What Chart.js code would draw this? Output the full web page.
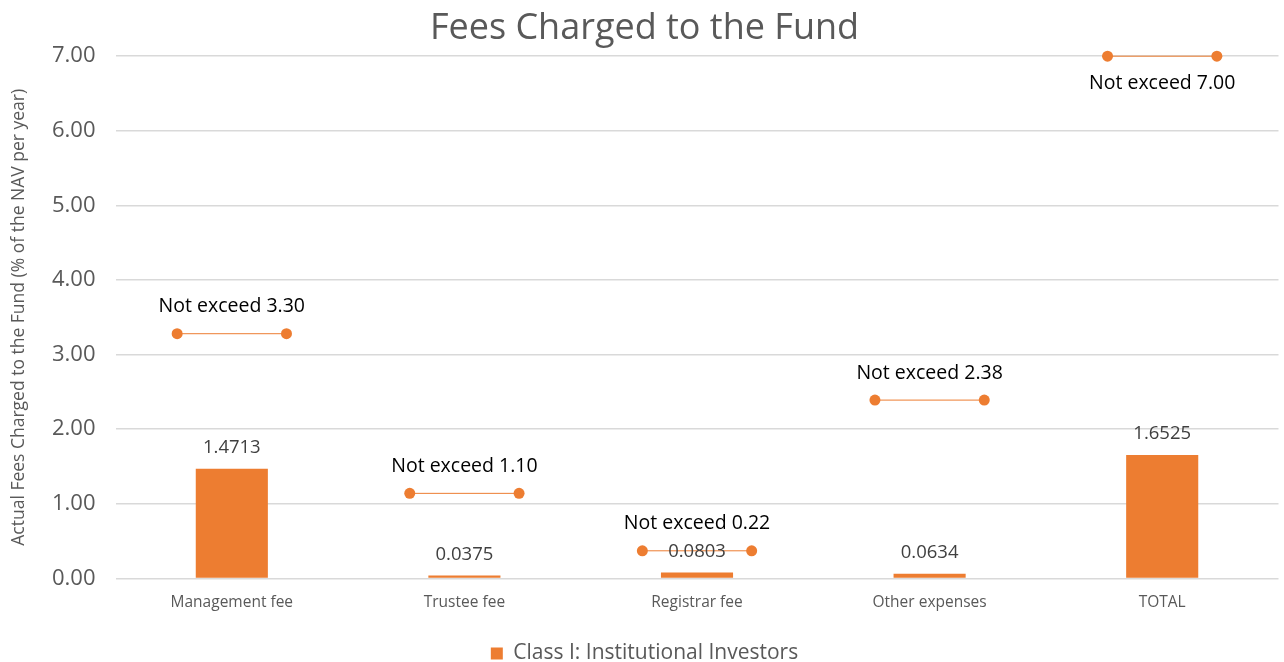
<!DOCTYPE html>
<html><head><meta charset="utf-8">
<script src="https://cdn.jsdelivr.net/npm/chart.js@4/dist/chart.umd.min.js"></script>
<style>html,body{margin:0;padding:0;background:#fff}#wrap{width:1284px;height:662px}</style>
</head><body><div id="wrap"><canvas id="c" width="1284" height="662"></canvas></div>
<script>
const categories = ["Management fee","Trustee fee","Registrar fee","Other expenses","TOTAL"];
const actualFees = [1.4713, 0.0375, 0.0803, 0.0634, 1.6525];
const actualLabels = ["1.4713","0.0375","0.0803","0.0634","1.6525"];
const capLevels = [3.28, 1.14, 0.37, 2.39, 7.00];
const capLabels = ["Not exceed 3.30","Not exceed 1.10","Not exceed 0.22","Not exceed 2.38","Not exceed 7.00"];
const yTicks = [0,1,2,3,4,5,6,7];

const ORANGE = '#ED7D31';
const capHalf = 0.235;
const capData = [];
capLevels.forEach((v,i)=>{
  capData.push({x:i-capHalf,y:v},{x:i+capHalf,y:v},{x:i+0.5,y:null});
});

const labelPlugin = {
  id:'labels',
  afterDatasetsDraw(chart){
    const ctx = chart.ctx;
    const y = chart.scales.y;
    const meta = chart.getDatasetMeta(0);
    ctx.save();
    ctx.textAlign='center';
    ctx.textBaseline='middle';
    ctx.font = '18.5px "Open Sans", sans-serif';
    ctx.fillStyle = '#404040';
    meta.data.forEach((bar,i)=>{
      ctx.fillText(actualLabels[i], bar.x, bar.y-21);
    });
    ctx.font = '19.5px "Open Sans", sans-serif';
    ctx.fillStyle = '#000000';
    capLevels.forEach((v,i)=>{
      const px = meta.data[i].x;
      const py = y.getPixelForValue(v);
      const off = (v >= 6.9) ? 27 : -27;
      ctx.fillText(capLabels[i], px, py+off);
    });
    ctx.restore();
  }
};

new Chart(document.getElementById('c'), {
  type:'bar',
  data:{
    labels: categories,
    datasets:[
      {type:'bar', label:'Class I: Institutional Investors', data: actualFees,
       backgroundColor: ORANGE, borderWidth:0, barPercentage:0.62, categoryPercentage:0.5, grouped:false,
       xAxisID:'x', yAxisID:'y', order:2},
      {type:'line', label:'caps', data: capData, xAxisID:'x2', yAxisID:'y',
       borderColor: ORANGE, borderWidth:1, pointRadius:5.5, pointBackgroundColor: ORANGE,
       pointBorderColor: ORANGE, pointBorderWidth:0, spanGaps:false, order:1, clip:false}
    ]
  },
  options:{
    responsive:false, animation:false,
    layout:{padding:{left:8,right:3,top:0,bottom:-12}},
    plugins:{
      title:{display:true, text:'Fees Charged to the Fund', color:'#595959',
        font:{family:'"Open Sans", sans-serif', size:36, weight:'normal'}, padding:{top:7,bottom:6}},
      legend:{position:'bottom', labels:{filter:(it)=>it.datasetIndex===0, color:'#595959',
        font:{family:'"Open Sans", sans-serif', size:21}, boxWidth:12, boxHeight:12, padding:0}},
      tooltip:{enabled:false}
    },
    scales:{
      x:{type:'category', grid:{display:false, drawTicks:false}, border:{display:false},
        ticks:{color:'#595959', font:{family:'"Open Sans", sans-serif', size:15.5}, padding:15},
        afterFit:(s)=>{ s.height += 16; }},
      x2:{type:'linear', display:false, offset:false, min:-0.5, max:4.5},
      y:{min:0, max:7, afterBuildTicks:(s)=>{s.ticks = yTicks.map(v=>({value:v}));},
        grid:{color:'#d9d9d9', lineWidth:1.5, drawTicks:false}, border:{display:false},
        ticks:{color:'#595959', font:{family:'"Open Sans", sans-serif', size:22}, padding:20,
          callback:(v)=>Number(v).toFixed(2)},
        title:{display:true, text:'Actual Fees Charged to the Fund (% of the NAV per year)', color:'#595959',
          font:{family:'"Open Sans", sans-serif', size:17.5}, padding:{top:1,bottom:2}}}
    }
  },
  plugins:[labelPlugin]
});
</script></body></html>
